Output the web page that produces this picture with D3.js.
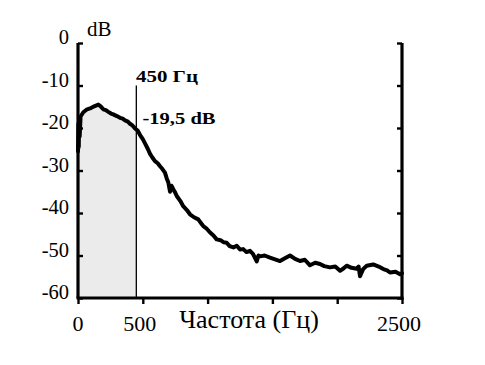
<!DOCTYPE html>
<html><head><meta charset="utf-8">
<script src="https://cdn.jsdelivr.net/npm/d3@7"></script>
<style>html,body{margin:0;padding:0;background:#fff;}svg{display:block;}
svg text{font-family:"Liberation Serif","Times New Roman",Tinos,"DejaVu Serif",serif;}</style>
</head><body>
<svg id="c" width="485" height="365"></svg>
<script>
const freqs = [0,3,6,9,13,20,41,70,93,125,157,175,195,215,234,255,272,300,324,345,363,385,401,420,440,460,478,500,517,540,556,575,594,615,633,650,671,684,697,710,722,735,750,762,790,812,840,864,895,928,950,967,990,1019,1045,1070,1100,1125,1147,1170,1199,1225,1250,1275,1300,1327,1350,1379,1392,1404,1440,1481,1520,1559,1600,1636,1675,1713,1750,1790,1830,1867,1900,1944,1985,2022,2050,2073,2110,2150,2165,2176,2200,2228,2278,2320,2356,2385,2407,2450,2485,2500];
const levels = [-25.5,-19,-24.5,-18,-22,-17.3,-16.3,-15.6,-15.4,-14.9,-14.5,-14.9,-15.6,-15.8,-16.2,-16.6,-16.8,-17.2,-17.6,-17.8,-18.2,-18.5,-19.0,-19.4,-20.1,-20.6,-21.6,-22.6,-23.6,-25.0,-26.1,-27.0,-27.8,-28.3,-29.0,-29.6,-30.5,-31.8,-32.8,-35.0,-33.6,-34.4,-35.2,-36.0,-37.2,-38.4,-39.3,-40.3,-41.0,-41.5,-42.4,-43.1,-43.6,-44.6,-45.3,-46.2,-46.4,-46.9,-47.0,-47.8,-48.1,-47.7,-48.6,-48.5,-49.2,-48.9,-49.6,-51.4,-50.0,-50.2,-50.0,-50.5,-50.9,-51.3,-50.6,-50.0,-50.8,-51.3,-51.0,-52.3,-51.7,-52.0,-52.5,-52.8,-52.6,-53.6,-53.0,-52.4,-52.9,-53.1,-52.6,-54.9,-53.2,-52.4,-52.1,-52.6,-53.2,-53.5,-54.0,-53.8,-54.4,-54.2];
const yTicks = [0,-10,-20,-30,-40,-50,-60];
const xTicks = [0,500,1000,1500,2000,2500];
const xTickLabels = ["0","500","","","","2500"];
const cutoffFreq = 450;
const cutoffTop = -10;
const cutoffLabel = "450 Гц";
const levelLabel = "-19,5 dB";
const yUnit = "dB";
const xTitle = "Частота (Гц)";

const data = freqs.map((f,i)=>({f, v: levels[i]}));
const svg = d3.select("#c");
const x = d3.scaleLinear().domain([0,2500]).range([78,402]);
const y = d3.scaleLinear().domain([-60,0]).range([298,43]);

// shaded area up to cutoff
svg.append("clipPath").attr("id","cl").append("rect")
  .attr("x", x(0)).attr("y", y(0)).attr("width", x(cutoffFreq)-x(0)).attr("height", y(-60)-y(0));
svg.append("path").datum(data)
  .attr("clip-path","url(#cl)")
  .attr("fill","#ebebeb")
  .attr("d", d3.area().x(d=>x(d.f)).y0(y(-60)).y1(d=>y(d.v)));

// cutoff line
svg.append("line").attr("x1",x(cutoffFreq)).attr("x2",x(cutoffFreq))
  .attr("y1",y(cutoffTop)).attr("y2",y(-60)).attr("stroke","#000").attr("stroke-width",1.3);

// curve
svg.append("path").datum(data).attr("fill","none").attr("stroke","#000")
  .attr("stroke-width",4).attr("stroke-linejoin","round").attr("stroke-linecap","round")
  .attr("d", d3.line().x(d=>x(d.f)).y(d=>y(d.v)));

// left axis
const gl = svg.append("g").attr("transform",`translate(${x(0)},0)`);
gl.call(d3.axisRight(y).tickValues(yTicks).tickSize(5).tickFormat(""));
gl.select(".domain").attr("d",`M0,${y(0)}V${y(-60)}`).attr("stroke-width",3.2);
gl.selectAll(".tick line").attr("stroke-width",2.4);
// right axis
const gr = svg.append("g").attr("transform",`translate(${x(2500)},0)`);
gr.call(d3.axisLeft(y).tickValues(yTicks).tickSize(5).tickFormat(""));
gr.select(".domain").attr("d",`M0,${y(0)}V${y(-60)+1.5}`).attr("stroke-width",3.2);
gr.selectAll(".tick line").attr("stroke-width",2.4);
// bottom axis
const gb = svg.append("g").attr("transform",`translate(0,${y(-60)})`);
gb.call(d3.axisBottom(x).tickValues(xTicks).tickSize(6).tickFormat(""));
gb.select(".domain").attr("d",`M${x(0)-1.5},0H${x(2500)+1.5}`).attr("stroke-width",3.2);
gb.selectAll(".tick line").attr("stroke-width",2.4);

// y labels
svg.append("g").selectAll("text").data(yTicks).join("text")
  .attr("x", x(0)-9).attr("y", d=>y(d)+1)
  .attr("text-anchor","end").attr("font-size",20.5)
  .text(d=>d);
// x labels
svg.append("g").selectAll("text").data(xTicks.map((t,i)=>({t,l:xTickLabels[i]})).filter(d=>d.l)).join("text")
  .attr("x", d=>x(d.t)-(d.t===500?3:(d.t===2500?3:0))).attr("y", 331)
  .attr("text-anchor","middle").attr("font-size",22)
  .text(d=>d.l);
// axis title
svg.append("text").attr("x",249).attr("y",328).attr("text-anchor","middle")
  .attr("font-size",26).text(xTitle);
// unit
svg.append("text").attr("x",87).attr("y",36).attr("font-size",21).text(yUnit);
// annotations
svg.append("text").attr("x",136).attr("y",81.5).attr("font-weight","bold")
  .attr("font-size",16).attr("textLength",62).attr("lengthAdjust","spacingAndGlyphs").text(cutoffLabel);
svg.append("text").attr("x",142.5).attr("y",124).attr("font-weight","bold")
  .attr("font-size",16).attr("textLength",73).attr("lengthAdjust","spacingAndGlyphs").text(levelLabel);
</script>
</body></html>
